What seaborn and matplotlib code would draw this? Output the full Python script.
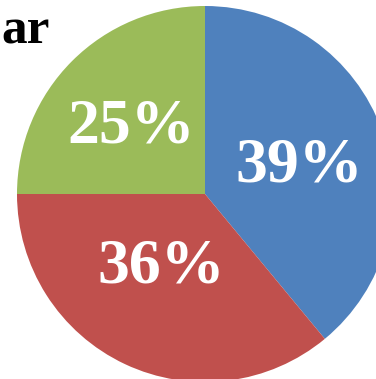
import numpy as np
import matplotlib
matplotlib.use("Agg")
import matplotlib.pyplot as plt
import seaborn as sns

# Share of the total per segment
segments = ["Blue", "Red", "Green"]
shares = [39, 36, 25]
colors = ["#4F81BD", "#C0504D", "#9BBB59"]

sns.set_style("white")
plt.rcParams["font.family"] = ["Liberation Serif", "DejaVu Serif"]

W, H = 376, 379
fig = plt.figure(figsize=(W / 100, H / 100), dpi=100)
ax = fig.add_axes([0, 0, 1, 1])

radius = 188
center = (205, H - 194)
wedges, _, autotexts = ax.pie(
    shares,
    colors=colors,
    startangle=90,
    counterclock=False,
    radius=radius,
    center=center,
    autopct=lambda p: f"{p:.0f}%",
    pctdistance=0.5,
    wedgeprops=dict(linewidth=0),
    textprops=dict(color="white", fontsize=46, fontweight="bold"),
)

# Per-slice label radius (fraction of the pie radius) and angular nudge
label_r = [0.52, 0.44, 0.55]
label_dtheta = [-1, -8, 2]
for w, t, r, dth in zip(wedges, autotexts, label_r, label_dtheta):
    theta = np.deg2rad((w.theta1 + w.theta2) / 2 + dth)
    t.set_position((center[0] + 2 + r * radius * np.cos(theta),
                    center[1] - 4 + r * radius * np.sin(theta)))
    t.set_va("center")
    t.set_ha("center")

ax.text(1, H - 44, "ar", fontsize=37, fontweight="bold", color="black",
        ha="left", va="baseline")

ax.set_xlim(0, W)
ax.set_ylim(0, H)
ax.set_aspect("equal")
ax.axis("off")

fig.savefig("out.png", dpi=100)
